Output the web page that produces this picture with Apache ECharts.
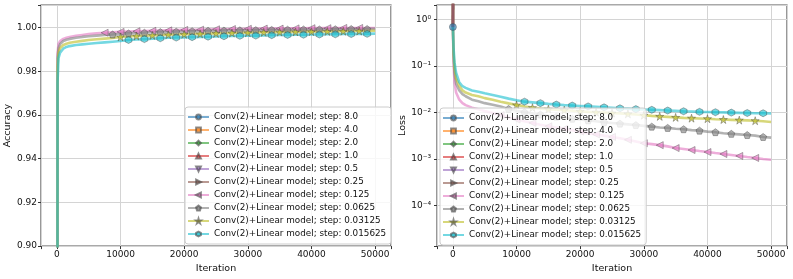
<!DOCTYPE html>
<html>
<head>
<meta charset="utf-8">
<script src="https://cdn.jsdelivr.net/npm/echarts@6/dist/echarts.min.js"></script>
<style>
html,body{margin:0;padding:0;background:#fff;}
#chart{width:793px;height:279px;}
</style>
</head>
<body>
<div id="chart"></div>
<script>
// ---------------- data ----------------
const stepLabels = ['8.0','4.0','2.0','1.0','0.5','0.25','0.125','0.0625','0.03125','0.015625'];
const seriesNames = stepLabels.map(s => 'Conv(2)+Linear model; step: ' + s);

const xTicks = [0, 10000, 20000, 30000, 40000, 50000];
const accTicks = [0.90, 0.92, 0.94, 0.96, 0.98, 1.00];

// logged iterations for the converging runs
const iterations = [0,100,250,500,1000,1500,2000,3000,4000,5000,
  6250,7500,8750,10000,11250,12500,13750,15000,16250,17500,
  18750,20000,21250,22500,23750,25000,26250,27500,28750,30000,
  31250,32500,33750,35000,36250,37500,38750,40000,41250,42500,
  43750,45000,46250,47500,48750,50000];

// diverged runs (step 8.0 ... 0.25): only the start is logged
const divergedIterations = [0, 100];
const divergedAcc = [0.10, 0.10];
const divergedLoss = [0.693, 1000];

// accuracy
const acc_0125 = [0.10,0.988,0.9925,0.9938,0.9948,0.9953,0.9957,0.9962,0.9966,0.9970,
  0.9973,0.9976,0.9978,0.9980,0.9982,0.9983,0.9984,0.9985,0.9986,0.9987,
  0.9988,0.9989,0.9990,0.9990,0.9991,0.9992,0.9992,0.9993,0.9993,0.9994,
  0.9994,0.9995,0.9995,0.9995,0.9996,0.9996,0.9996,0.9997,0.9997,0.9997,
  0.9997,0.9998,0.9998,0.9998,0.9998,0.9998];
const acc_0625 = [0.10,0.986,0.9905,0.9925,0.9938,0.9944,0.9948,0.9953,0.9957,0.9960,
  0.9963,0.9966,0.9968,0.9971,0.9973,0.9975,0.9976,0.9978,0.9979,0.9980,
  0.9981,0.9982,0.9983,0.9984,0.9985,0.9985,0.9986,0.9987,0.9987,0.9988,
  0.9988,0.9989,0.9989,0.9990,0.9990,0.9990,0.9991,0.9991,0.9991,0.9992,
  0.9992,0.9992,0.9993,0.9993,0.9993,0.9994];
const acc_03125 = [0.10,0.982,0.9885,0.9905,0.9920,0.9926,0.9930,0.9935,0.9939,0.9943,
  0.9946,0.9949,0.9952,0.9957,0.9959,0.9961,0.9963,0.9964,0.9966,0.9967,
  0.9968,0.9969,0.9970,0.9971,0.9972,0.9973,0.9974,0.9975,0.9976,0.9976,
  0.9977,0.9978,0.9978,0.9979,0.9980,0.9980,0.9981,0.9981,0.9982,0.9982,
  0.9983,0.9983,0.9984,0.9984,0.9985,0.9985];
const acc_015625 = [0.10,0.975,0.9860,0.9885,0.9903,0.9911,0.9915,0.9920,0.9923,0.9926,
  0.9929,0.9932,0.9935,0.9938,0.9943,0.9945,0.9947,0.9949,0.9951,0.9953,
  0.9954,0.9955,0.9956,0.9957,0.9958,0.9959,0.9960,0.9961,0.9962,0.9963,
  0.9963,0.9964,0.9965,0.9966,0.9966,0.9967,0.9967,0.9968,0.9968,0.9969,
  0.9969,0.9970,0.9970,0.9971,0.9971,0.9972];

// loss
const loss_0125 = [0.693,0.12,0.045,0.027,0.019,0.0160,0.0145,0.0128,0.0118,0.0108,
  0.0098,0.0089,0.0079,0.0071,0.0065,0.0060,0.0055,0.0051,0.0048,0.0045,
  0.0042,0.0039,0.0036,0.0034,0.0032,0.0030,0.0028,0.0026,0.0024,0.0022,
  0.0021,0.0020,0.00188,0.00173,0.00165,0.00157,0.00149,0.00142,0.00135,0.00129,
  0.00123,0.00117,0.00111,0.00106,0.00101,0.00097];
const loss_0625 = [0.693,0.17,0.070,0.042,0.030,0.025,0.0225,0.019,0.0175,0.016,
  0.0148,0.0135,0.0120,0.0110,0.0102,0.0096,0.0091,0.0086,0.0082,0.0078,
  0.0074,0.0071,0.0068,0.0065,0.0062,0.0060,0.0058,0.0056,0.0054,0.0052,
  0.0050,0.0048,0.0047,0.0045,0.0044,0.0042,0.0041,0.0039,0.0038,0.0036,
  0.0035,0.0034,0.0033,0.0032,0.0030,0.0029];
const loss_03125 = [0.693,0.20,0.090,0.055,0.038,0.030,0.027,0.024,0.0225,0.0205,
  0.0190,0.0172,0.0158,0.0146,0.0136,0.0128,0.0122,0.0119,0.0116,0.0113,
  0.0110,0.0107,0.0104,0.0102,0.0100,0.0098,0.0096,0.0094,0.0091,0.0088,
  0.0085,0.0083,0.0081,0.0079,0.0077,0.0076,0.0075,0.0074,0.0072,0.0071,
  0.0070,0.0069,0.0068,0.0067,0.0065,0.0063];
const loss_015625 = [0.693,0.25,0.12,0.072,0.045,0.037,0.034,0.030,0.028,0.026,
  0.024,0.022,0.020,0.0185,0.0172,0.0166,0.0160,0.0154,0.0149,0.0145,
  0.0142,0.0139,0.0136,0.0133,0.0130,0.0127,0.0124,0.0122,0.0119,0.0117,
  0.0115,0.0113,0.0111,0.0109,0.0107,0.0106,0.0104,0.0103,0.0102,0.0101,
  0.0100,0.0099,0.0098,0.0097,0.0097,0.0096];

// ---------------- styling ----------------
const colors = ['#1f77b4','#ff7f0e','#2ca02c','#d62728','#9467bd','#8c564b','#e377c2','#7f7f7f','#bcbd22','#17becf'];
const PENT = 'path://M0,-1 L0.951,-0.309 L0.588,0.809 L-0.588,0.809 L-0.951,-0.309 Z';
const STAR = 'path://M0,-1 L0.2245,-0.309 L0.951,-0.309 L0.363,0.118 L0.588,0.809 L0,0.382 L-0.588,0.809 L-0.363,0.118 L-0.951,-0.309 L-0.2245,-0.309 Z';
const HEX = 'path://M0,-1 L0.866,-0.5 L0.866,0.5 L0,1 L-0.866,0.5 L-0.866,-0.5 Z';
const markers = [
  {symbol:'circle', size:7, rot:0},
  {symbol:'rect', size:6, rot:0},
  {symbol:'diamond', size:7.5, rot:0},
  {symbol:'triangle', size:7, rot:0},
  {symbol:'triangle', size:7, rot:180},
  {symbol:'triangle', size:7, rot:-90},
  {symbol:'triangle', size:7, rot:90},
  {symbol:PENT, size:7, rot:0},
  {symbol:STAR, size:8, rot:0},
  {symbol:HEX, size:7, rot:0}
];
const FONT = 'DejaVu Sans';

function isMarked(i, it) {
  const off = 1250 * i;
  return it >= off && (it - off) % 2500 === 0 && it < 50000;
}
function buildData(i, xs, ys) {
  return xs.map((x, k) => isMarked(i, x) ? [x, ys[k]] : {value: [x, ys[k]], symbol: 'none'});
}

const accData = [], lossData = [];
for (let i = 0; i < 6; i++) { accData.push(buildData(i, divergedIterations, divergedAcc)); lossData.push(buildData(i, divergedIterations, divergedLoss)); }
accData.push(buildData(6, iterations, acc_0125)); lossData.push(buildData(6, iterations, loss_0125));
accData.push(buildData(7, iterations, acc_0625)); lossData.push(buildData(7, iterations, loss_0625));
accData.push(buildData(8, iterations, acc_03125)); lossData.push(buildData(8, iterations, loss_03125));
accData.push(buildData(9, iterations, acc_015625)); lossData.push(buildData(9, iterations, loss_015625));

function mkSeries(i, data, axis) {
  const m = markers[i];
  return {
    type: 'line', name: seriesNames[i], data: data,
    xAxisIndex: axis, yAxisIndex: axis,
    symbol: m.symbol, symbolSize: m.size, symbolRotate: m.rot,
    showSymbol: true, showAllSymbol: true,
    lineStyle: {color: colors[i], width: 2.6, opacity: 0.6},
    itemStyle: {color: colors[i], borderColor: '#444', borderWidth: 0.7, opacity: 0.6},
    emphasis: {disabled: true}, silent: true, clip: true, animation: false
  };
}
const series = [];
for (let i = 0; i < 10; i++) series.push(mkSeries(i, accData[i], 0));
for (let i = 0; i < 10; i++) series.push(mkSeries(i, lossData[i], 1));

const SUP = {'-':'\u207B','0':'\u2070','1':'\u00B9','2':'\u00B2','3':'\u00B3','4':'\u2074','5':'\u2075'};
function logLabel(v) {
  const e = Math.log10(v);
  const r = Math.round(e);
  if (Math.abs(e - r) > 1e-6) return '';
  return '10' + String(r).split('').map(c => SUP[c]).join('');
}
function xLabel(v) { return xTicks.some(t => Math.abs(t - v) < 1e-6) ? String(Math.round(v)) : ''; }
function accLabel(v) { return accTicks.some(t => Math.abs(t - v) < 1e-9) ? v.toFixed(2) : ''; }

const axisCommon = {
  axisLine: {show: false, onZero: false},
  axisTick: {show: true, length: 3, lineStyle: {color: '#333', width: 1}},
  splitLine: {show: true, lineStyle: {color: '#d4d4d4', width: 1}},
  axisLabel: {fontFamily: FONT, fontSize: 9, color: '#111', margin: 4},
  nameTextStyle: {fontFamily: FONT, fontSize: 9.5, color: '#111'}
};
function xAxis(g) {
  return Object.assign({}, axisCommon, {
    gridIndex: g, type: 'value', min: -2500, max: 52500, splitNumber: 5,
    name: 'Iteration', nameLocation: 'middle', nameGap: 15,
    axisLabel: Object.assign({}, axisCommon.axisLabel, {formatter: xLabel})
  });
}
const legendCommon = {
  orient: 'vertical', data: seriesNames, itemWidth: 21, itemHeight: 6, itemGap: 3,
  textStyle: {fontFamily: FONT, fontSize: 8.8, color: '#111', lineHeight: 10},
  backgroundColor: 'rgba(255,255,255,0.8)', borderColor: '#cccccc', borderWidth: 1, borderRadius: 3,
  padding: [5, 5, 5, 2], selectedMode: false
};

const option = {
  animation: false,
  backgroundColor: '#fff',
  grid: [
    {left: 41, top: 5, width: 350, height: 242, show: true, borderColor: '#555', borderWidth: 1.2, backgroundColor: 'transparent'},
    {left: 437, top: 5, width: 350, height: 242, show: true, borderColor: '#555', borderWidth: 1.2, backgroundColor: 'transparent'}
  ],
  xAxis: [xAxis(0), xAxis(1)],
  yAxis: [
    Object.assign({}, axisCommon, {
      gridIndex: 0, type: 'value', min: 0.9, max: 1.0103, splitNumber: 5,
      name: 'Accuracy', nameLocation: 'middle', nameGap: 28, nameRotate: 90,
      axisLabel: Object.assign({}, axisCommon.axisLabel, {formatter: accLabel})
    }),
    Object.assign({}, axisCommon, {
      gridIndex: 1, type: 'log', logBase: 10, min: 1.35e-5, max: 2.06,
      name: 'Loss', nameLocation: 'middle', nameGap: 28, nameRotate: 90,
      axisLabel: Object.assign({}, axisCommon.axisLabel, {formatter: logLabel, margin: 6})
    })
  ],
  legend: [
    Object.assign({}, legendCommon, {left: 185, top: 107}),
    Object.assign({}, legendCommon, {left: 440, top: 108})
  ],
  series: series
};

const chart = echarts.init(document.getElementById('chart'), null, {renderer: 'canvas'});
chart.setOption(option);
</script>
</body>
</html>
